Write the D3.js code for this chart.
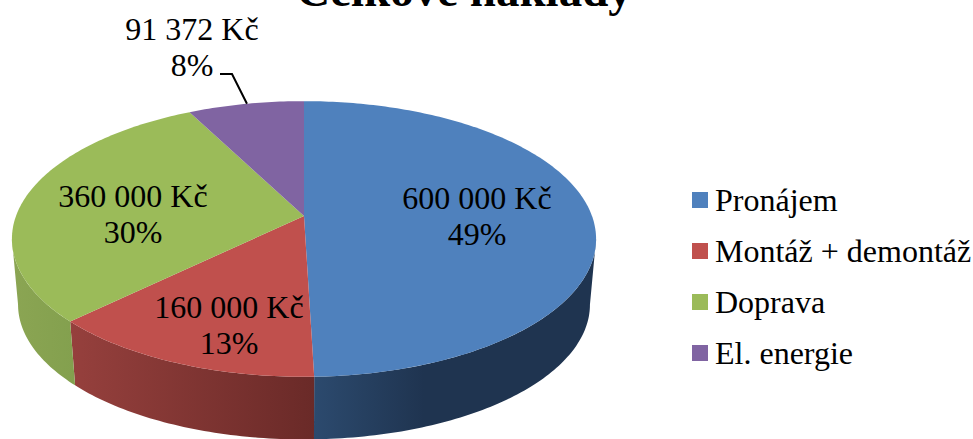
<!DOCTYPE html>
<html>
<head>
<meta charset="utf-8">
<script src="https://cdn.jsdelivr.net/npm/d3@7"></script>
<style>
    html, body { margin: 0; padding: 0; background: #fff; overflow: hidden; }
    text { font-family: "Liberation Serif", serif; fill: #000; }
</style>
</head>
<body>
<svg width="973" height="439"></svg>
<script>
// data
var categories = ['Pronájem', 'Montáž + demontáž', 'Doprava', 'El. energie'];
var values = [600000, 160000, 360000, 91372];
var valueLabels = ['600 000 Kč', '160 000 Kč', '360 000 Kč', '91 372 Kč'];
var percentLabels = ['49%', '13%', '30%', '8%'];

var colors = ['#4f81bd', '#c0504d', '#9bbb59', '#8064a2'];
// left and right colour of the side wall of each slice
var wallColors = [['#2c4a6e', '#1f3450'], ['#96403d', '#6a2a28'], ['#8ba553', '#83a04e'], ['#6a5387', '#6a5387']];

var svg = d3.select('svg');

// the pie is a circle seen in perspective, so the centre is not in the middle of the ellipse
var persp = 0.1667;
var depth = 66;
var shrink = 0.979;
var xscale = d3.scaleLinear().domain([-1, 1]).range([304 - 288, 304 + 288]);
var yscale = d3.scaleLinear().domain([-1, 1]).range([216 - 134, 216 + 134]);

function project(angle, bottom) {
    var u = Math.sin(angle);
    var v = -Math.cos(angle);
    var s = 1 / (1 - persp * v);
    if (bottom) {
        s = s * shrink;
    }
    return [xscale(u * s), yscale(v * s) + (bottom ? depth : 0)];
}

var pie = d3.pie().sort(null).value(function (d) { return d; });
var arcs = pie(values);

function samples(a0, a1) {
    var n = Math.max(2, Math.ceil((a1 - a0) * 60));
    return d3.range(n + 1).map(function (i) {
        return a0 + (a1 - a0) * i / n;
    });
}

var line = d3.line();
var defs = svg.append('defs');

// side walls, only between the two points where the outline is widest
var wallFrom = Math.acos(-persp);
var wallTo = 2 * Math.PI - wallFrom;

arcs.forEach(function (d, i) {
    var a0 = Math.max(d.startAngle, wallFrom);
    var a1 = Math.min(d.endAngle, wallTo);
    if (a1 <= a0) {
        return;
    }
    var angles = samples(a0, a1);
    var pts = angles.map(function (a) { return project(a, false); })
        .concat(angles.slice().reverse().map(function (a) { return project(a, true); }));

    var xext = d3.extent(pts, function (p) { return p[0]; });
    var grad = defs.append('linearGradient')
        .attr('id', 'wall' + i)
        .attr('gradientUnits', 'userSpaceOnUse')
        .attr('x1', xext[0]).attr('x2', i === 0 ? xext[0] + 110 : xext[1])
        .attr('y1', 0).attr('y2', 0);
    grad.append('stop').attr('offset', 0).attr('stop-color', wallColors[i][0]);
    grad.append('stop').attr('offset', 1).attr('stop-color', wallColors[i][1]);

    svg.append('path')
        .attr('d', line(pts) + 'Z')
        .attr('fill', 'url(#wall' + i + ')');
});

// top of the pie
arcs.forEach(function (d, i) {
    var pts = samples(d.startAngle, d.endAngle).map(function (a) { return project(a, false); });
    pts.push([xscale(0), yscale(0)]);
    svg.append('path')
        .attr('d', line(pts) + 'Z')
        .attr('fill', colors[i]);
});

// title, cut off by the top of the picture
svg.append('text')
    .attr('x', 464)
    .attr('y', 6)
    .attr('text-anchor', 'middle')
    .style('font-size', '47px')
    .style('font-weight', 'bold')
    .text('Celkové náklady');

// data labels
var labelX = [477, 229, 133, 192];
var labelY = [209, 318, 207, 40];
var labelGap = 35.5;

valueLabels.forEach(function (t, i) {
    var g = svg.append('text')
        .attr('text-anchor', 'middle')
        .style('font-size', '32px');
    g.append('tspan').attr('x', labelX[i]).attr('y', labelY[i]).text(t);
    g.append('tspan').attr('x', labelX[i]).attr('y', labelY[i] + labelGap).text(percentLabels[i]);
});

// leader line of the small slice
var leaderEnd = project(arcs[3].startAngle + (arcs[3].endAngle - arcs[3].startAngle) * 0.51, false);
svg.append('path')
    .attr('d', line([[220, 74], [232, 74], leaderEnd]))
    .attr('fill', 'none')
    .attr('stroke', '#000')
    .attr('stroke-width', 2);

// legend
var legendY = d3.scalePoint().domain(categories).range([201, 354]);

categories.forEach(function (c, i) {
    svg.append('rect')
        .attr('x', 692)
        .attr('y', legendY(c) - 9)
        .attr('width', 16)
        .attr('height', 16)
        .attr('fill', colors[i]);
    svg.append('text')
        .attr('x', 715)
        .attr('y', legendY(c) + 10)
        .style('font-size', '32px')
        .text(c);
});
</script>
</body>
</html>
